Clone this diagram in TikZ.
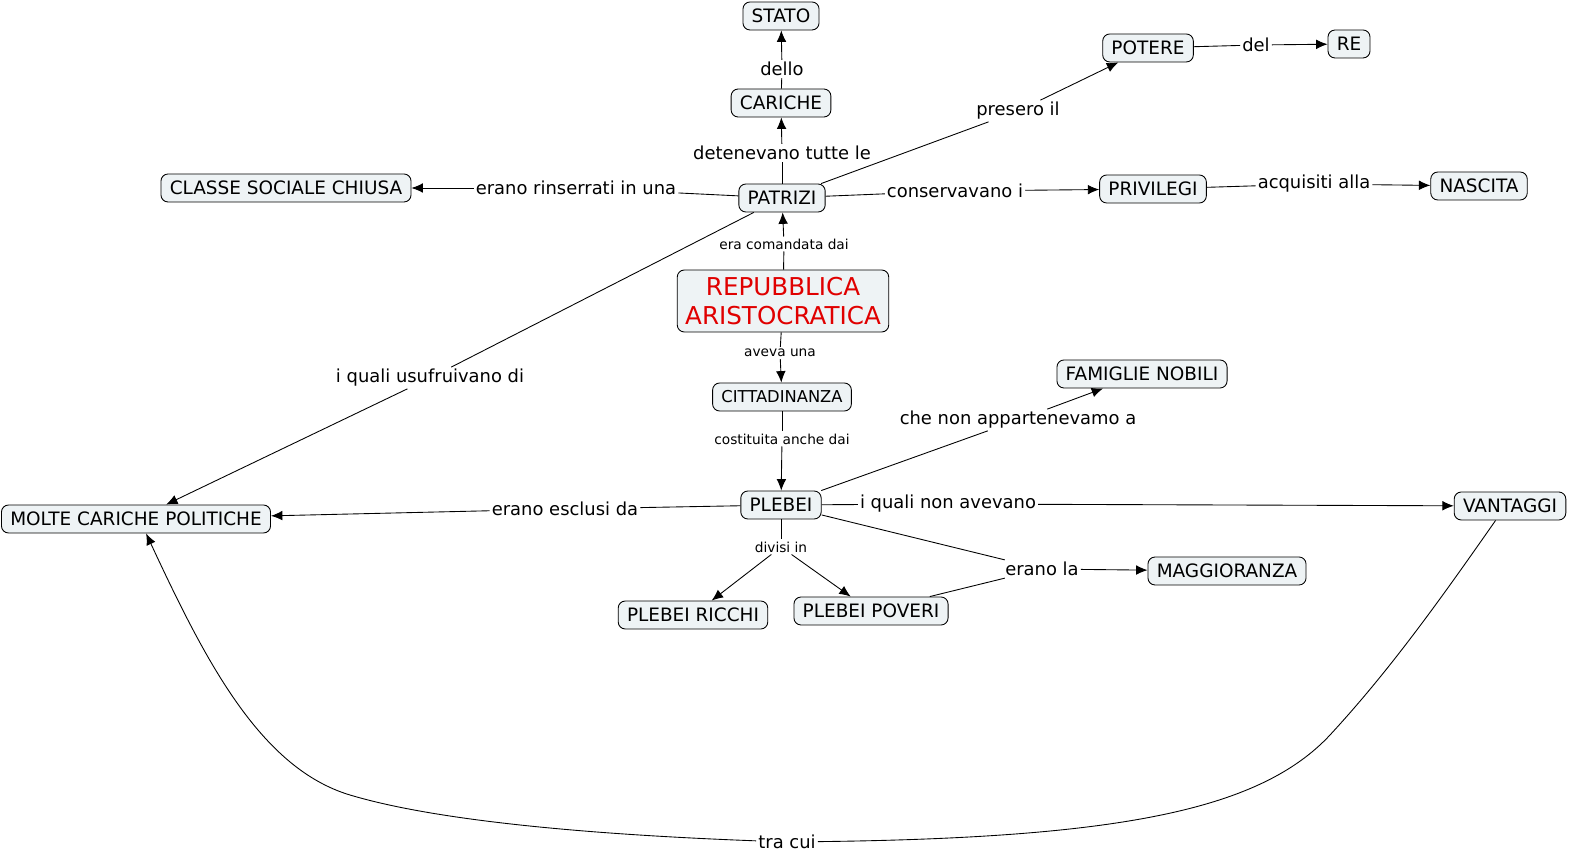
\documentclass[tikz,border=0pt]{standalone}
\usepackage{fontspec}
\setmainfont{DejaVu Sans}
\usetikzlibrary{arrows.meta,positioning}
\definecolor{conc}{HTML}{EEF3F5}
\definecolor{rosso}{HTML}{E00000}

\begin{document}
\begin{tikzpicture}[x=0.02cm,y=-0.02cm,line width=0.5pt,
   >={Latex[length=6.5pt,width=5.5pt]},
   concept/.style={draw,fill=conc,rounded corners=4pt,inner xsep=5pt,
     minimum height=0.56cm,font=\fontsize{10.5}{12}\selectfont},
   smallconcept/.style={concept,font=\fontsize{9.3}{11}\selectfont},
   main/.style={concept,text=rosso,align=center,minimum height=1.24cm,
     inner xsep=4.5pt,font=\fontsize{14}{16.4}\selectfont},
   link/.style={inner sep=1pt,font=\fontsize{10.2}{12}\selectfont},
   smalllink/.style={inner sep=1pt,font=\fontsize{7.8}{9}\selectfont}]
   \useasboundingbox (0,0) rectangle (1575,857);

   % concetti
   \node[main] (rep) at (783,301) {REPUBBLICA\\ARISTOCRATICA};
   \node[concept] (stato) at (781,16) {STATO};
   \node[concept] (cariche) at (781,103) {CARICHE};
   \node[concept] (patrizi) at (782,198) {PATRIZI};
   \node[concept] (potere) at (1148,48) {POTERE};
   \node[concept] (re) at (1349,44) {RE};
   \node[concept] (classe) at (286,188) {CLASSE SOCIALE CHIUSA};
   \node[concept] (privilegi) at (1153,189) {PRIVILEGI};
   \node[concept] (nascita) at (1479,186) {NASCITA};
   \node[smallconcept] (citt) at (782,397) {CITTADINANZA};
   \node[concept] (plebei) at (781,505) {PLEBEI};
   \node[concept] (famiglie) at (1142,374) {FAMIGLIE NOBILI};
   \node[concept] (molte) at (136,519) {MOLTE CARICHE POLITICHE};
   \node[concept] (vantaggi) at (1510,506) {VANTAGGI};
   \node[concept] (ricchi) at (693,615) {PLEBEI RICCHI};
   \node[concept] (poveri) at (871,611) {PLEBEI POVERI};
   \node[concept] (magg) at (1227,571) {MAGGIORANZA};

   % frasi legame
   \node[link] (dello) at (782,69) {dello};
   \node[link] (detenevano) at (782,153) {detenevano tutte le};
   \node[link] (presero) at (1018,111) {presero il};
   \node[link] (del) at (1256,45) {del};
   \node[link] (rinserrati) at (576,188) {erano rinserrati in una};
   \node[link] (conservavano) at (955,191) {conservavano i};
   \node[link] (acquisiti) at (1314,184) {acquisiti alla};
   \node[smalllink] (comandata) at (784,244) {era comandata dai};
   \node[smalllink] (aveva) at (780,353) {aveva una};
   \node[smalllink] (costituita) at (782,439) {costituita anche dai};
   \node[link] (appart) at (1018,420) {che non appartenevamo a};
   \node[link] (usufruivano) at (430,378) {i quali usufruivano di};
   \node[link] (esclusi) at (565,509) {erano esclusi da};
   \node[link] (nonavevano) at (948,504) {i quali non avevano};
   \node[smalllink] (divisi) at (781,547) {divisi in};
   \node[link] (eranola) at (1042,569) {erano la};
   \node[link] (tracui) at (787,842) {tra cui};

   \path (cariche) edge (dello);
   \path[->] (dello) edge (stato);
   \path (patrizi) edge (detenevano);
   \path[->] (detenevano) edge (cariche);
   \path (patrizi) edge (presero);
   \path[->] (presero) edge (potere);
   \path (potere) edge (del);
   \path[->] (del) edge (re);
   \path (patrizi) edge (rinserrati);
   \path[->] (rinserrati) edge (classe);
   \path (patrizi) edge (conservavano);
   \path[->] (conservavano) edge (privilegi);
   \path (privilegi) edge (acquisiti);
   \path[->] (acquisiti) edge (nascita);
   \path (rep) edge (comandata);
   \path[->] (comandata) edge (patrizi);
   \path (rep) edge (aveva);
   \path[->] (aveva) edge (citt);
   \path (citt) edge (costituita);
   \path[->] (costituita) edge (plebei);
   \path (plebei) edge (appart);
   \path[->] (appart) edge (famiglie);
   \path (patrizi) edge (usufruivano);
   \path[->] (usufruivano) edge (molte);
   \path (plebei) edge (esclusi);
   \path[->] (esclusi) edge (molte);
   \path (plebei) edge (nonavevano);
   \path[->] (nonavevano) edge (vantaggi);
   \path (plebei) edge (divisi);
   \path[->] (divisi) edge (ricchi);
   \path[->] (divisi) edge (poveri);
   \path (plebei) edge (eranola);
   \path (poveri) edge (eranola);
   \path[->] (eranola) edge (magg);
   % curva in basso
   \draw (vantaggi.225) .. controls (1440,600) and (1390,670) .. (1330,735)
      .. controls (1260,810) and (1120,838) .. (tracui);
   \draw[->] (tracui) .. controls (600,835) and (440,822) .. (350,795)
      .. controls (260,768) and (205,660) .. (molte.305);
\end{tikzpicture}
\end{document}
